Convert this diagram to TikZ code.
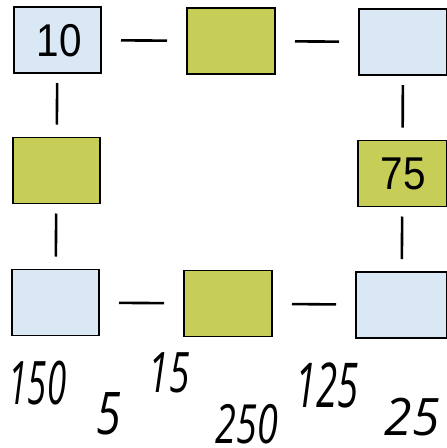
\documentclass[tikz,border=0pt]{standalone}
\usepackage{fontspec}
\setmainfont{Liberation Sans}
\newfontfamily\handfont{Open Sans}
\definecolor{boxblue}{RGB}{218,232,245}
\definecolor{boxgreen}{RGB}{198,206,88}
\begin{document}
\begin{tikzpicture}[x=1pt,y=-1pt,
  cell/.style={line width=1.8pt,minimum width=87pt,minimum height=66pt,inner sep=0pt,outer sep=0pt},
  bluecell/.style={cell,fill=boxblue},
  greencell/.style={cell,fill=boxgreen},
  frame/.style={line width=1.8pt,line join=miter},
  link/.style={line width=2.6pt,shorten <=20pt,shorten >=20pt},
  vlink/.style={line width=2.6pt,shorten <=10pt,shorten >=13pt},
  boxnum/.style={font=\fontsize{46}{46}\selectfont,inner sep=0pt},
  hand/.style={font=\handfont\fontsize{60}{60}\selectfont,inner sep=0pt}]
\useasboundingbox (0,0) rectangle (447,448);
\node[bluecell] (a1) at (57.5,40) {};
\node[greencell,minimum width=88pt] (a2) at (231,41) {};
\node[bluecell,minimum width=88pt] (a3) at (403,42) {};
\node[greencell] (b1) at (56.5,170.5) {};
\node[greencell,minimum width=89pt] (b3) at (402.5,173.5) {};
\node[bluecell] (c1) at (55.5,302.5) {};
\node[greencell,minimum width=88pt] (c2) at (228,303.5) {};
\node[bluecell,minimum width=91pt] (c3) at (401.5,305) {};
\foreach \b in {a1,a2,a3,b1,b3,c1,c2,c3}
  \draw[frame] (\b.south west) rectangle (\b.north east);
\node[boxnum] (t10) at (59.5,41) {\scalebox{0.88}[1]{10}};
\node[boxnum] (t75) at (403.5,174) {\scalebox{0.88}[1]{75}};
\draw[link] (a1) -- (a2);
\draw[link] (a2) -- (a3);
\draw[link] (c1) -- (c2);
\draw[link] (c2) -- (c3);
\draw[vlink] (a1) -- (b1);
\draw[vlink] (b1) -- (c1);
\draw[vlink] (a3) -- (b3);
\draw[vlink] (b3) -- (c3);
\node[hand] (n150) at (37.5,383) {\scalebox{0.58}[1.0]{\itshape 150}};
\node[hand] (n5) at (109,414) {\scalebox{0.75}[0.98]{\itshape 5}};
\node[hand] (n15) at (169,373) {\scalebox{0.62}[0.93]{\itshape 15}};
\node[hand] (n250) at (247,424) {\scalebox{0.63}[0.9]{\itshape 250}};
\node[hand] (n125) at (327,385) {\scalebox{0.64}[1.03]{\itshape 125}};
\node[hand] (n25) at (412,417) {\scalebox{0.83}[0.86]{\itshape 25}};
\end{tikzpicture}
\end{document}
